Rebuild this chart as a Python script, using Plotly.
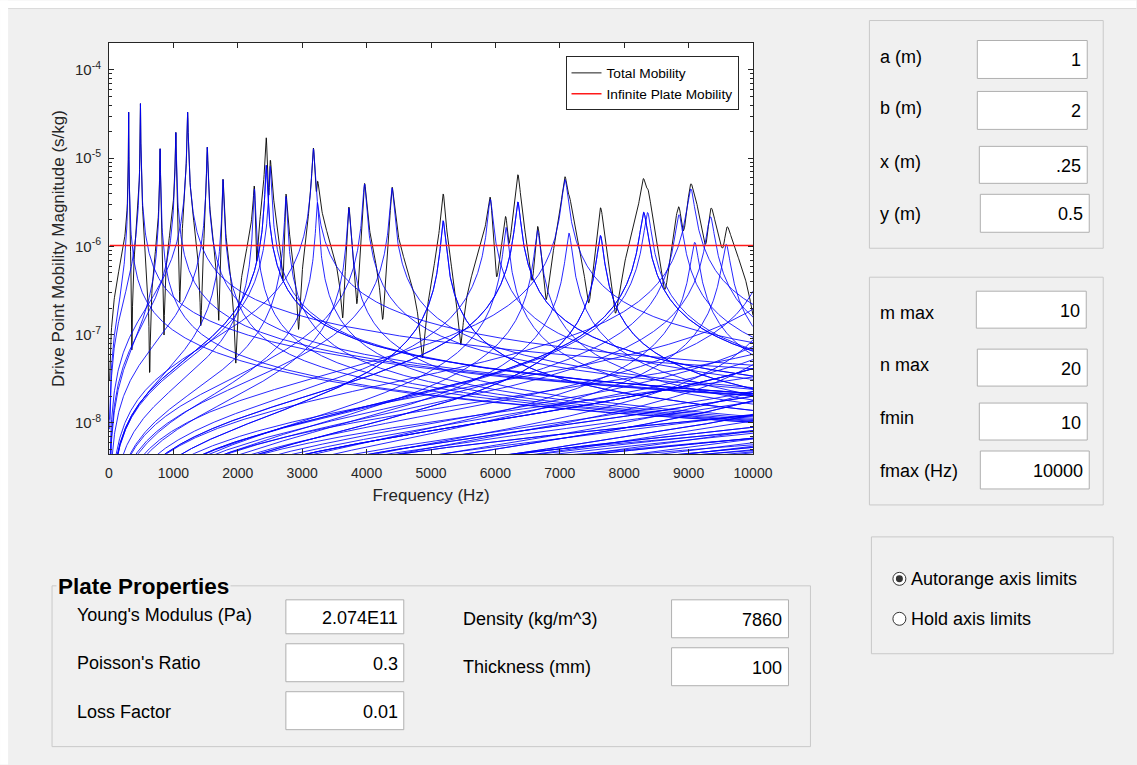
import numpy as np
import plotly.graph_objects as go

# ---------------- values read from the GUI ----------------
PLATE_DIMS_M = [1.0, 2.0]          # a, b
DRIVE_POINT_M = [0.25, 0.5]        # x, y
MODE_LIMITS = [10, 20]             # m max, n max
FREQ_LIMITS_HZ = [10, 10000]       # fmin, fmax
YOUNGS_MODULUS_PA = 2.074e11
POISSON_RATIO = 0.3
LOSS_FACTOR = 0.01
DENSITY_KG_M3 = 7860
THICKNESS_MM = 100
N_FREQ = 2000

X_TICKS = [0, 1000, 2000, 3000, 4000, 5000, 6000, 7000, 8000, 9000, 10000]
Y_TICK_VALUES = [1e-8, 1e-7, 1e-6, 1e-5, 1e-4]
Y_TICK_TEXT = ["10<sup>-8</sup>", "10<sup>-7</sup>", "10<sup>-6</sup>", "10<sup>-5</sup>", "10<sup>-4</sup>"]
Y_LOG_RANGE = [-8.352, -3.695]

LEGEND_NAMES = ["Total Mobility", "Infinite Plate Mobility"]

LEFT_PANEL_LABELS = ["a (m)", "b (m)", "x (m)", "y (m)"]
LEFT_PANEL_VALUES = ["1", "2", ".25", "0.5"]
MID_PANEL_LABELS = ["m max", "n max", "fmin", "fmax (Hz)"]
MID_PANEL_VALUES = ["10", "20", "10", "10000"]
PLATE_LABELS_A = ["Young's Modulus (Pa)", "Poisson's Ratio", "Loss Factor"]
PLATE_VALUES_A = ["2.074E11", "0.3", "0.01"]
PLATE_LABELS_B = ["Density (kg/m^3)", "Thickness (mm)"]
PLATE_VALUES_B = ["7860", "100"]
RADIO_LABELS = ["Autorange axis limits", "Hold axis limits"]

# ---------------- plate model (simply supported plate) ----------------
a, b = PLATE_DIMS_M
x0, y0 = DRIVE_POINT_M
h = THICKNESS_MM / 1000.0
D = YOUNGS_MODULUS_PA * h ** 3 / (12 * (1 - POISSON_RATIO ** 2))
rho_h = DENSITY_KG_M3 * h
modal_mass = rho_h * a * b / 4.0

modes = []
for m in range(1, MODE_LIMITS[0] + 1):
    for n in range(1, MODE_LIMITS[1] + 1):
        phi = np.sin(m * np.pi * x0 / a) * np.sin(n * np.pi * y0 / b)
        if abs(phi) < 1e-9:
            continue
        wmn = np.sqrt(D / rho_h) * ((m * np.pi / a) ** 2 + (n * np.pi / b) ** 2)
        modes.append((phi, wmn))

res_f = np.array([w / (2 * np.pi) for _, w in modes])
res_f = res_f[(res_f > FREQ_LIMITS_HZ[0]) & (res_f < FREQ_LIMITS_HZ[1])]
freq = np.unique(np.concatenate([np.linspace(FREQ_LIMITS_HZ[0], FREQ_LIMITS_HZ[1], N_FREQ), res_f]))
w = 2 * np.pi * freq

total = np.zeros_like(w, dtype=complex)
mode_mags = []
for phi, wmn in modes:
    Y = 1j * w * phi ** 2 / (modal_mass * (wmn ** 2 * (1 + 1j * LOSS_FACTOR) - w ** 2))
    total += Y
    mode_mags.append(np.abs(Y))
Y_inf = 1.0 / (8 * np.sqrt(D * rho_h))

# ---------------- figure ----------------
FONT = "Liberation Sans, Arial, Helvetica, sans-serif"
AX = "#262626"
GUI_SIZE = 18
fig = go.Figure()
xf = freq.astype(np.float32)
fig.add_trace(go.Scatter(x=xf, y=np.abs(total).astype(np.float32), mode="lines",
                         line=dict(color="black", width=0.9), name=LEGEND_NAMES[0], hoverinfo="skip"))
for mag in mode_mags:
    fig.add_trace(go.Scatter(x=xf, y=mag.astype(np.float32), mode="lines",
                             line=dict(color="#0000ff", width=0.85), showlegend=False, hoverinfo="skip"))
fig.add_trace(go.Scatter(x=[FREQ_LIMITS_HZ[0], FREQ_LIMITS_HZ[1]], y=[Y_inf, Y_inf], mode="lines",
                         line=dict(color="#ff1a1a", width=1.5), name=LEGEND_NAMES[1], hoverinfo="skip"))

W, H = 1137, 765
PL, PR, PT, PB = 109, 753.5, 42.5, 454


def px(x):
    return (x - PL) / (PR - PL)


def py(y):
    return (PB - y) / (PB - PT)


shapes = []
ann = []


def rect(x1, y1, x2, y2, fill=None, line="#c9c9c9", lw=1):
    shapes.append(dict(type="rect", xref="paper", yref="paper", x0=px(x1), x1=px(x2), y0=py(y2), y1=py(y1),
                       fillcolor=fill if fill else "rgba(0,0,0,0)", line=dict(color=line, width=lw),
                       layer="below"))


def text(x, y, s, size=GUI_SIZE, anchor="left", bold=False, bg=None):
    d = dict(xref="paper", yref="paper", x=px(x), y=py(y), text=("<b>%s</b>" % s) if bold else s,
             showarrow=False, xanchor=anchor, yanchor="middle",
             font=dict(family=FONT, size=size, color="#000000"))
    if bg:
        d["bgcolor"] = bg
    ann.append(d)


def edit_box(x1, y1, x2, y2, value):
    rect(x1, y1, x2, y2, fill="#ffffff", line="#b0b0b0")
    text(x2 - 4, (y1 + y2) / 2 + 1, value, anchor="right")


# outer white strip
rect(0, 0, W, 8, fill="#ffffff", line="#ffffff", lw=0)
rect(0, 0, 8, H, fill="#ffffff", line="#ffffff", lw=0)
shapes.append(dict(type="line", xref="paper", yref="paper", x0=px(8), x1=px(W), y0=py(8), y1=py(8),
                   line=dict(color="#dadada", width=1), layer="below"))

# top-right panel
rect(870, 20, 1104, 248)
left_boxes = [(978, 40, 1088, 78, 57), (978, 91, 1088, 129, 108), (980, 146, 1088, 183, 162), (981, 194, 1090, 232, 214)]
for (x1, y1, x2, y2, ly), lab, val in zip(left_boxes, LEFT_PANEL_LABELS, LEFT_PANEL_VALUES):
    text(879, ly, lab)
    edit_box(x1, y1, x2, y2, val)

# middle-right panel
rect(870, 277, 1104, 505)
mid_boxes = [(977, 291, 1087, 328, 313), (978, 349, 1088, 386, 365), (980, 403, 1088, 440, 418), (981, 451, 1090, 489, 471)]
for (x1, y1, x2, y2, ly), lab, val in zip(mid_boxes, MID_PANEL_LABELS, MID_PANEL_VALUES):
    text(879, ly, lab)
    edit_box(x1, y1, x2, y2, val)

# radio panel
rect(872, 537, 1114, 654)
for i, (cy, lab) in enumerate(zip([579, 619], RADIO_LABELS)):
    r = 6.5
    shapes.append(dict(type="circle", xref="paper", yref="paper", x0=px(900 - r), x1=px(900 + r),
                       y0=py(cy + r), y1=py(cy - r), fillcolor="#ffffff", line=dict(color="#333333", width=1),
                       layer="below"))
    if i == 0:
        r2 = 3.5
        shapes.append(dict(type="circle", xref="paper", yref="paper", x0=px(900 - r2), x1=px(900 + r2),
                           y0=py(cy + r2), y1=py(cy - r2), fillcolor="#333333", line=dict(color="#333333", width=0),
                           layer="below"))
    text(910, cy, lab)

# plate properties panel
rect(52, 586, 811, 747)
text(56, 587, "Plate Properties", size=22.5, bold=True, bg="#f0f0f0")
plate_a = [(286, 600, 404, 634, 615), (286, 644, 404, 682, 663), (286, 692, 404, 730, 712)]
for (x1, y1, x2, y2, ly), lab, val in zip(plate_a, PLATE_LABELS_A, PLATE_VALUES_A):
    text(75, ly, lab)
    edit_box(x1, y1, x2, y2, val)
plate_b = [(672, 600, 789, 638, 619), (672, 648, 789, 686, 667)]
for (x1, y1, x2, y2, ly), lab, val in zip(plate_b, PLATE_LABELS_B, PLATE_VALUES_B):
    text(461, ly, lab)
    edit_box(x1, y1, x2, y2, val)

fig.update_layout(
    width=W, height=H, autosize=False,
    margin=dict(l=PL, r=W - PR, t=PT, b=H - PB, pad=0),
    paper_bgcolor="#f0f0f0", plot_bgcolor="#ffffff",
    font=dict(family=FONT, color=AX, size=14),
    shapes=shapes, annotations=ann,
    showlegend=True,
    legend=dict(x=px(739), y=py(56), xanchor="right", yanchor="top", bgcolor="#ffffff",
                bordercolor=AX, borderwidth=1, font=dict(size=13.7, color="#000000"),
                tracegroupgap=0, itemwidth=30),
    xaxis=dict(range=[0, 10000], tickmode="array", tickvals=X_TICKS, ticktext=[str(t) for t in X_TICKS],
               ticks="inside", ticklen=5, tickcolor=AX, showline=True, linecolor=AX, linewidth=1,
               mirror="ticks", showgrid=False, zeroline=False, ticklabelstandoff=6,
               tickfont=dict(size=14, color=AX),
               title=dict(text="Frequency (Hz)", font=dict(size=17, color=AX), standoff=9)),
    yaxis=dict(type="log", range=Y_LOG_RANGE, tickmode="array", tickvals=Y_TICK_VALUES, ticktext=Y_TICK_TEXT,
               ticks="inside", ticklen=5, tickcolor=AX, showline=True, linecolor=AX, linewidth=1,
               mirror="ticks", showgrid=False, zeroline=False, ticklabelstandoff=4,
               tickfont=dict(size=15, color=AX),
               minor=dict(ticks="inside", ticklen=3, tickcolor=AX, showgrid=False, dtick="D1"),
               title=dict(text="Drive Point Mobility Magnitude (s/kg)", font=dict(size=17, color=AX), standoff=6)),
)

fig.write_html("out.html")
